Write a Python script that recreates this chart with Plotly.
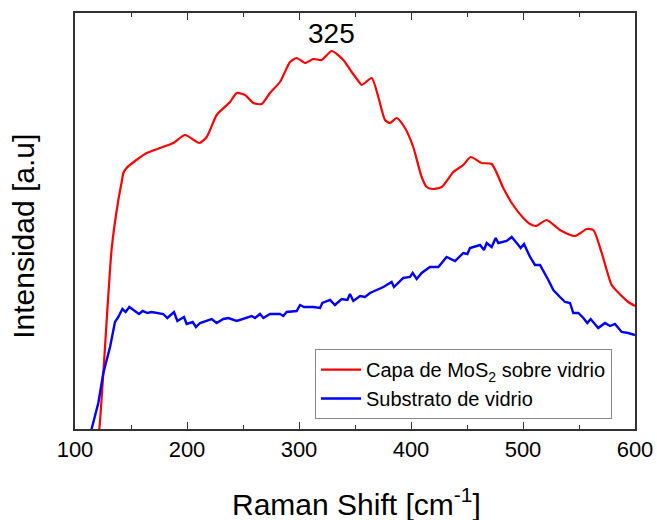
import plotly.graph_objects as go

# Raman shift (cm^-1) and intensity (a.u.)
mos2_x = [119.5, 121.7, 125.3, 132.8, 138.7, 141.7, 143.2, 146.0, 153.6, 164.0, 175.9, 187.8,
          198.2, 211.0, 217.6, 226.5, 238.4, 244.4, 251.8, 259.2, 266.7, 274.1, 283.0,
          292.0, 297.9, 305.4, 312.8, 320.3, 329.2, 339.6, 347.0, 353.0, 356.0, 364.9,
          370.8, 376.8, 381.3, 387.2, 394.6, 402.0, 409.5, 414.0, 419.9, 427.4, 437.8,
          446.7, 453.3, 463.0, 472.0, 482.4, 489.9, 500.3, 506.3, 511.6, 521.1, 533.0,
          546.4, 556.9, 562.8, 570.3, 579.2, 588.1, 594.0, 600.0]
mos2_y = [-15, 0, 56, 181, 229, 247, 256, 261, 268, 276, 281, 286,
          294, 286, 292, 314, 327, 336, 334, 326, 325, 336, 347,
          367, 371, 366, 370, 369, 378, 369, 357, 348, 344, 351,
          332, 309, 306, 311, 301, 282, 252, 242, 240, 242, 257,
          264, 272, 266, 265, 241, 226, 211, 205, 203, 209, 199,
          193, 200, 199, 176, 144, 133, 127, 123]

glass_x = [113.0, 114.9, 120.8, 125.3, 131.3, 135.7, 138.7, 142.3, 145.2, 148.5, 152.7, 157.1,
           160.4, 164.6, 168.5, 173.0, 178.8, 182.4, 188.4, 191.4, 197.3, 199.7, 205.1,
           208.0, 211.6, 222.0, 226.5, 232.4, 236.9, 244.4, 251.8, 257.8, 260.7, 265.2,
           268.2, 274.1, 283.0, 286.0, 289.0, 297.9, 300.9, 304.5, 312.8, 318.8, 320.8,
           327.7, 332.1, 338.1, 343.2, 345.5, 348.5, 354.5, 358.9, 363.4, 369.3, 375.3,
           382.7, 384.8, 393.1, 399.1, 401.5, 405.1, 409.5, 416.9, 424.4, 431.8, 439.3,
           446.7, 450.3, 452.7, 461.6, 465.2, 467.6, 472.0, 475.6, 478.0, 485.4, 489.9,
           494.4, 497.9, 500.9, 506.3, 510.7, 515.2, 522.6, 527.1, 533.0, 537.5, 542.0,
           544.9, 549.4, 553.9, 557.4, 560.4, 567.2, 573.2, 577.7, 582.1, 588.1, 594.0, 600.0]
glass_y = [-8, 0, 26, 56, 82, 107, 112, 120, 117, 122, 119, 115,
           118, 116, 117, 116, 115, 111, 117, 108, 112, 105, 107,
           102, 106, 110, 106, 110, 111, 108, 111, 113, 111, 115,
           111, 115, 115, 113, 117, 118, 124, 122, 122, 121, 126,
           129, 124, 130, 129, 135, 128, 133, 132, 136, 139, 142,
           147, 142, 151, 152, 156, 150, 156, 162, 162, 172, 168,
           176, 175, 181, 184, 179, 186, 182, 191, 186, 188, 192,
           186, 181, 185, 172, 164, 164, 149, 139, 132, 127, 126,
           116, 116, 111, 106, 110, 101, 106, 103, 105, 97, 96, 94]

x_ticks = [100, 200, 300, 400, 500, 600]
peak_label = "325"
x_title = "Raman Shift [cm<sup>-1</sup>]"
y_title = "Intensidad [a.u]"
font = "Arial, 'Liberation Sans', sans-serif"

fig = go.Figure()
fig.add_trace(go.Scatter(x=mos2_x, y=mos2_y, mode="lines",
                         line=dict(color="#FF0000", width=2.2, shape="spline", smoothing=0.6),
                         name="Capa de MoS<sub>2</sub> sobre vidrio", legendgroup="a"))
fig.add_trace(go.Scatter(x=glass_x, y=glass_y, mode="lines",
                         line=dict(color="#0000FF", width=2.4),
                         name="Substrato de vidrio", legendgroup="b"))

fig.add_annotation(x=329, y=396, text=peak_label, showarrow=False,
                   font=dict(size=28, color="black", family=font))
fig.add_annotation(x=0.502, y=-0.176, xref="paper", yref="paper", text=x_title,
                   showarrow=False, xanchor="center", yanchor="middle",
                   font=dict(size=30, color="black", family=font))
fig.add_annotation(x=-0.091, y=0.462, xref="paper", yref="paper", text=y_title,
                   showarrow=False, textangle=-90, xanchor="center", yanchor="middle",
                   font=dict(size=30, color="black", family=font))

fig.update_layout(
    width=657, height=520,
    margin=dict(l=75, r=22, t=13, b=91),
    plot_bgcolor="white", paper_bgcolor="white",
    font=dict(family=font, color="black"),
    showlegend=True,
    legend=dict(x=0.4286, y=0.108, xanchor="left", yanchor="middle",
                bordercolor="#888888", borderwidth=1, bgcolor="white",
                font=dict(size=20, family=font), tracegroupgap=0,
                itemwidth=40),
    xaxis=dict(range=[100, 600], tickvals=x_ticks, ticktext=[str(v) for v in x_ticks],
               ticks="inside", ticklen=7, tickwidth=1.2, tickcolor="#333333",
               minor=dict(dtick=50, ticks="inside", ticklen=4, tickwidth=1.2, tickcolor="#333333"),
               showline=True, linecolor="#333333", linewidth=1.5, mirror="ticks",
               showgrid=False, zeroline=False, automargin=False,
               tickfont=dict(size=22, family=font)),
    yaxis=dict(range=[0, 416], showticklabels=False, ticks="",
               showline=True, linecolor="#333333", linewidth=1.5, mirror=True,
               showgrid=False, zeroline=False, automargin=False),
)

fig.write_html("out.html")
